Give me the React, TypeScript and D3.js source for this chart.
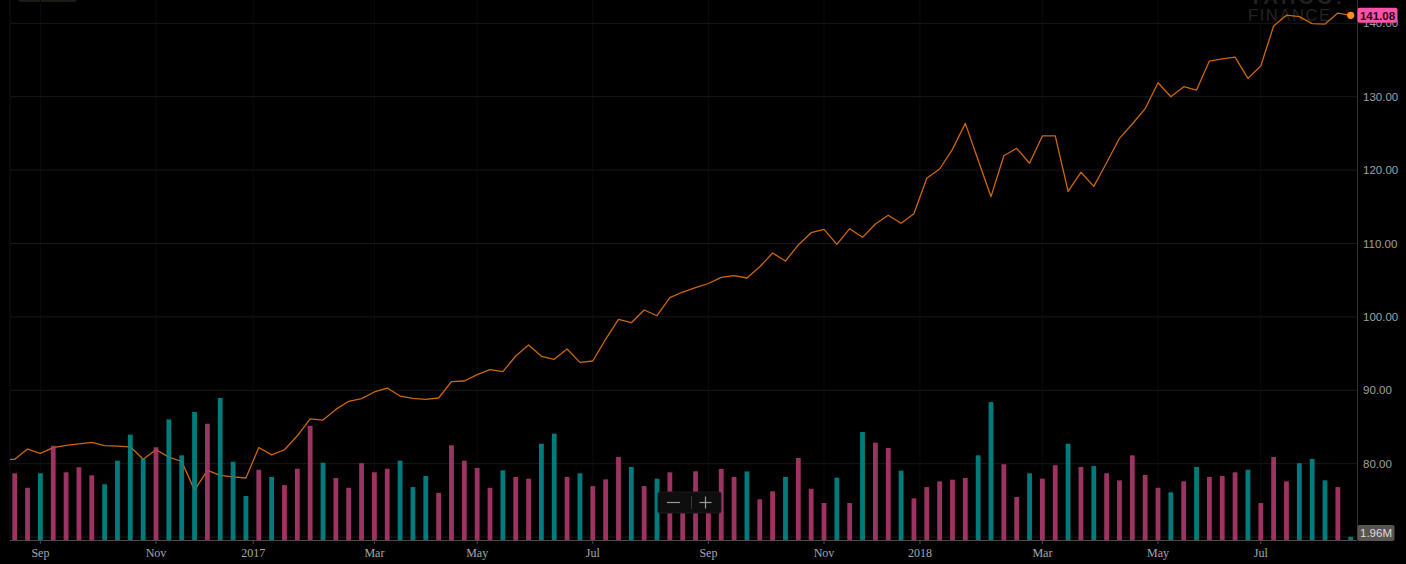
import { useEffect, useRef } from 'react';
import * as d3 from 'd3';

// weekly closes, one per volume bar (first value sits just before the visible window)
const prevClose = 80.6;
const closes = [
  80.6, 82.0, 81.4, 82.2, 82.5, 82.7, 82.9, 82.45, 82.4, 82.3,
  80.6, 81.9, 80.9, 80.3, 76.4, 79.1, 78.4, 78.2, 78.05, 82.2,
  81.2, 81.9, 83.8, 86.1, 85.95, 87.4, 88.5, 88.86, 89.77, 90.31,
  89.22, 88.9, 88.77, 88.95, 91.17, 91.27, 92.13, 92.81, 92.54, 94.67,
  96.17, 94.63, 94.22, 95.63, 93.81, 93.99, 96.95, 99.67, 99.21, 100.94,
  100.16, 102.62, 103.39, 103.98, 104.55, 105.39, 105.61, 105.3, 106.84, 108.7,
  107.62, 109.8, 111.47, 111.93, 109.89, 112.02, 110.84, 112.66, 113.84, 112.75,
  114.06, 118.88, 120.15, 122.83, 126.37, 121.33, 116.38, 121.96, 122.97, 120.93,
  124.65, 124.65, 117.11, 119.7, 117.79, 121.01, 124.33, 126.28, 128.37, 131.9,
  130.0, 131.36, 130.91, 134.86, 135.14, 135.4, 132.5, 134.18, 139.63, 141.1,
  140.9, 139.95, 139.9, 141.4, 141.08,
];

// weekly volume, millions
const volumes = [
  39.7, 31.1, 39.7, 56.1, 40.3, 43.3, 38.5, 33.2, 47.2, 62.7,
  48.6, 55.2, 71.8, 50.4, 76.2, 69.2, 84.5, 46.6, 26.2, 41.8,
  37.5, 32.7, 42.4, 68.0, 46.0, 36.9, 31.1, 45.7, 40.3, 42.4,
  47.2, 31.5, 38.1, 28.0, 56.4, 47.2, 42.9, 31.1, 41.5, 37.5,
  36.5, 57.3, 63.3, 37.5, 39.7, 32.1, 36.1, 49.4, 43.5, 32.1,
  36.5, 40.3, 24.0, 40.9, 23.0, 42.3, 37.5, 40.8, 24.2, 29.0,
  37.5, 48.8, 30.5, 22.0, 37.1, 22.0, 64.3, 57.9, 54.8, 41.3,
  24.8, 31.5, 34.9, 35.9, 36.9, 50.4, 82.1, 45.1, 25.6, 39.7,
  36.5, 44.5, 57.3, 43.5, 44.0, 39.7, 35.5, 50.4, 38.7, 31.1,
  28.4, 34.9, 43.5, 37.5, 38.1, 40.3, 41.8, 22.0, 49.4, 34.9,
  45.7, 48.2, 35.5, 31.5, 1.96,
];

// u = teal bar, d = pink bar, ten weeks per chunk
const barDir = [
  'ddudddduuu', 'uduuuduuud', 'uddduddddd', 'uuudddddud', 'duududddud',
  'uddddddudd', 'udddududdu', 'ddddduuddu', 'ddududdddd', 'ududdduddd',
  'uuudu',
].join('');

const tickLabels = ['Sep', 'Nov', '2017', 'Mar', 'May', 'Jul', 'Sep', 'Nov', '2018', 'Mar', 'May', 'Jul'];
const tickWeeks = [2, 11, 18.57, 28, 36, 45, 54, 63, 70.47, 80, 89, 97];
const priceTicks = [70, 80, 90, 100, 110, 120, 130, 140];

const lastPrice = '141.08';
const lastVolume = '1.96M';

const W = 1406;
const H = 564;

export default function App() {
  const svgRef = useRef<SVGSVGElement>(null);

  useEffect(() => {
    if (!svgRef.current) return;
    const svg = d3.select(svgRef.current);
    svg.selectAll('*').remove();

    const left = 10;
    const right = 1357;
    const base = 540;

    const x = d3.scaleLinear().domain([0, closes.length - 1]).range([14.7, 1350.7]);
    const y = d3.scaleLinear().domain([80, 140]).range([463.7, 23.3]);
    const yVol = d3.scaleLinear().domain([0, 100]).range([base, 372]);

    svg.append('rect').attr('width', W).attr('height', H).attr('fill', '#000');

    svg
      .append('defs')
      .append('clipPath')
      .attr('id', 'plot-clip')
      .append('rect')
      .attr('x', left)
      .attr('y', 0)
      .attr('width', right - left)
      .attr('height', base);

    // watermark
    svg
      .append('text')
      .attr('x', 1249)
      .attr('y', 4)
      .attr('fill', '#222')
      .attr('font-family', 'Liberation Sans, Arial, sans-serif')
      .attr('font-size', '20px')
      .attr('font-weight', 'bold')
      .attr('letter-spacing', '3px')
      .text('YAHOO!');
    svg
      .append('text')
      .attr('x', 1248)
      .attr('y', 21)
      .attr('fill', '#242424')
      .attr('font-family', 'Liberation Sans, Arial, sans-serif')
      .attr('font-size', '16.5px')
      .attr('letter-spacing', '1.6px')
      .text('FINANCE');

    // faint leftover button at the top left
    svg
      .append('rect')
      .attr('x', 18)
      .attr('y', -6)
      .attr('width', 59)
      .attr('height', 8)
      .attr('rx', 3)
      .attr('fill', '#1d1b18');

    // grid
    svg
      .append('line')
      .attr('x1', left)
      .attr('x2', left)
      .attr('y1', 0)
      .attr('y2', base)
      .attr('stroke', '#121212');
    tickWeeks.forEach((w) => {
      svg
        .append('line')
        .attr('x1', x(w))
        .attr('x2', x(w))
        .attr('y1', 0)
        .attr('y2', base)
        .attr('stroke', '#0b0b0b');
    });
    priceTicks.forEach((p) => {
      svg
        .append('line')
        .attr('x1', left)
        .attr('x2', right)
        .attr('y1', y(p))
        .attr('y2', y(p))
        .attr('stroke', '#181818');
    });

    const plot = svg.append('g').attr('clip-path', 'url(#plot-clip)');

    // price line
    const pts: [number, number][] = [[-1, prevClose], ...closes.map((c, i) => [i, c] as [number, number])];
    const line = d3
      .line<[number, number]>()
      .x((d) => x(d[0]))
      .y((d) => y(d[1]));
    plot
      .append('path')
      .datum(pts)
      .attr('d', line)
      .attr('fill', 'none')
      .attr('stroke', '#cc670c')
      .attr('stroke-width', 1.3)
      .attr('stroke-linejoin', 'round');

    // volume bars
    const bw = 4.8;
    plot
      .selectAll('.vol')
      .data(volumes)
      .enter()
      .append('rect')
      .attr('x', (_, i) => x(i) - bw / 2)
      .attr('y', (d) => yVol(d))
      .attr('width', bw)
      .attr('height', (d) => base - yVol(d))
      .attr('fill', (_, i) => (barDir[i] === 'u' ? '#008c8c' : '#b23a6e'))
      .attr('fill-opacity', 0.88);

    // last price dot
    svg
      .append('circle')
      .attr('cx', x(closes.length - 1))
      .attr('cy', y(closes[closes.length - 1]))
      .attr('r', 3.6)
      .attr('fill', '#ff8c1a');

    // x axis
    svg
      .append('line')
      .attr('x1', left)
      .attr('x2', right)
      .attr('y1', base + 0.5)
      .attr('y2', base + 0.5)
      .attr('stroke', '#4a4a4a');
    tickWeeks.forEach((w, i) => {
      svg
        .append('line')
        .attr('x1', x(w))
        .attr('x2', x(w))
        .attr('y1', base)
        .attr('y2', base + 4)
        .attr('stroke', '#4a4a4a');
      svg
        .append('text')
        .attr('x', x(w))
        .attr('y', 557)
        .attr('text-anchor', 'middle')
        .attr('fill', '#a8a8a8')
        .attr('font-family', 'Liberation Serif, Times New Roman, serif')
        .attr('font-size', '12px')
        .text(tickLabels[i]);
    });

    // right axis
    svg
      .append('line')
      .attr('x1', right + 0.5)
      .attr('x2', right + 0.5)
      .attr('y1', 0)
      .attr('y2', base)
      .attr('stroke', '#333');
    priceTicks.forEach((p) => {
      svg
        .append('text')
        .attr('x', 1363)
        .attr('y', y(p))
        .attr('dy', '0.36em')
        .attr('fill', '#a0a0a0')
        .attr('font-family', 'Liberation Sans, Arial, sans-serif')
        .attr('font-size', '11.5px')
        .text(d3.format('.2f')(p));
    });

    // last price label
    const py = y(closes[closes.length - 1]);
    svg
      .append('rect')
      .attr('x', 1357.5)
      .attr('y', py - 7.5)
      .attr('width', 40)
      .attr('height', 15)
      .attr('rx', 2)
      .attr('fill', '#ff52a8');
    svg
      .append('text')
      .attr('x', 1377.5)
      .attr('y', py)
      .attr('dy', '0.36em')
      .attr('text-anchor', 'middle')
      .attr('fill', '#2a0614')
      .attr('font-family', 'Liberation Sans, Arial, sans-serif')
      .attr('font-size', '11.5px')
      .attr('font-weight', 'bold')
      .text(lastPrice);

    // last volume label
    svg
      .append('rect')
      .attr('x', 1357.5)
      .attr('y', 525)
      .attr('width', 37)
      .attr('height', 16)
      .attr('rx', 2)
      .attr('fill', '#5a554e');
    svg
      .append('text')
      .attr('x', 1376)
      .attr('y', 533)
      .attr('dy', '0.36em')
      .attr('text-anchor', 'middle')
      .attr('fill', '#dedede')
      .attr('font-family', 'Liberation Sans, Arial, sans-serif')
      .attr('font-size', '11.5px')
      .text(lastVolume);

    // zoom control
    const zc = svg.append('g').attr('transform', 'translate(658,492)');
    zc.append('rect')
      .attr('width', 63)
      .attr('height', 21)
      .attr('rx', 2)
      .attr('fill', '#0e0e0e')
      .attr('stroke', '#1a1a1a');
    zc.append('line')
      .attr('x1', 9)
      .attr('x2', 22)
      .attr('y1', 10.5)
      .attr('y2', 10.5)
      .attr('stroke', '#9a9a9a')
      .attr('stroke-width', 1.2);
    zc.append('line')
      .attr('x1', 33.5)
      .attr('x2', 33.5)
      .attr('y1', 4)
      .attr('y2', 17)
      .attr('stroke', '#3a3a3a');
    zc.append('line')
      .attr('x1', 41.5)
      .attr('x2', 53.5)
      .attr('y1', 10.5)
      .attr('y2', 10.5)
      .attr('stroke', '#9a9a9a')
      .attr('stroke-width', 1.2);
    zc.append('line')
      .attr('x1', 47.5)
      .attr('x2', 47.5)
      .attr('y1', 4.5)
      .attr('y2', 16.5)
      .attr('stroke', '#9a9a9a')
      .attr('stroke-width', 1.2);
  }, []);

  return (
    <div style={{ position: 'fixed', left: 0, top: 0, width: W, height: H, background: '#000' }}>
      <svg ref={svgRef} width={W} height={H} style={{ display: 'block' }} />
    </div>
  );
}
